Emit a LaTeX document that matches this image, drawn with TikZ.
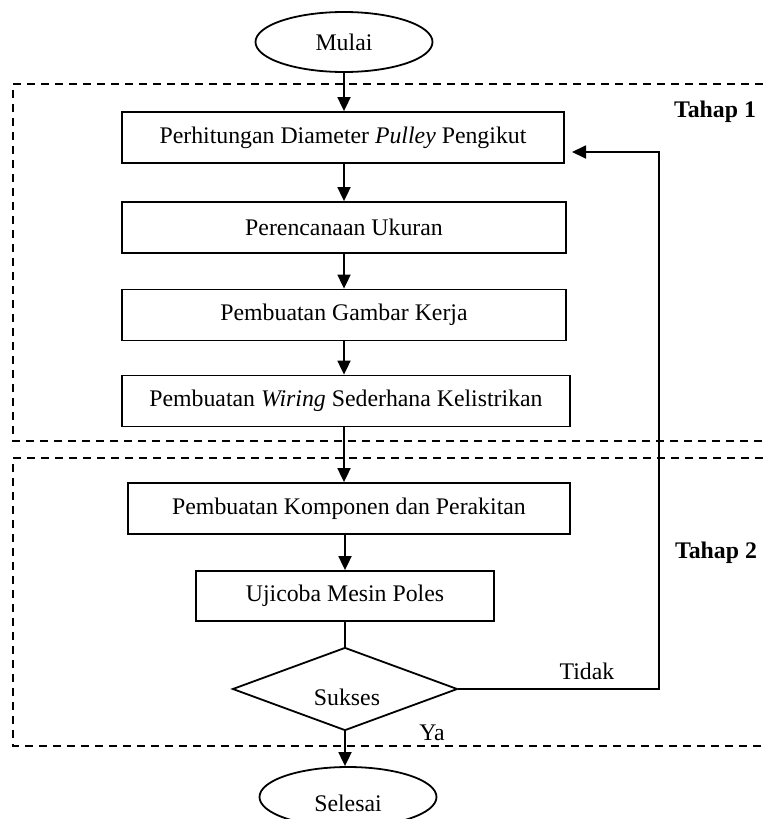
\documentclass[tikz,border=0pt]{standalone}
\usepackage{fontspec}
\setmainfont{Liberation Serif}
\usetikzlibrary{shapes.geometric,arrows.meta}
\begin{document}
\begin{tikzpicture}[x=1pt,y=-1pt,
  every node/.style={font=\fontsize{23.8}{26}\selectfont},
  line/.style={line width=1.8pt},
  arr/.style={line width=1.8pt,-{Triangle[width=13pt,length=14pt]}},
  procbox/.style={draw,line width=1.8pt,rectangle,minimum height=51pt,inner sep=0pt},
  term/.style={draw,line width=1.8pt,ellipse,minimum width=177pt,minimum height=60pt,inner sep=0pt},
  decision/.style={draw,line width=1.8pt,diamond,minimum width=225pt,minimum height=83pt,inner sep=0pt},
  stage/.style={line width=1.6pt,dash pattern=on 8pt off 6pt},
  lbl/.style={inner sep=0pt}]
\useasboundingbox (0,0) rectangle (763,819);
% dashed stage frames
\draw[stage] (763,84) -- (13,84) -- (13,441) -- (763,441);
\draw[stage] (763,458) -- (13,458) -- (13,746) -- (763,746);
% nodes
\node[term] (mulai) at (344,42) {Mulai};
\node[procbox,minimum width=442pt] (b1) at (343,137.5) {Perhitungan Diameter \textit{Pulley} Pengikut};
\node[procbox,minimum width=444pt] (b2) at (344,227.5) {Perencanaan Ukuran};
\node[procbox,minimum width=444pt] (b3) at (344,315) {Pembuatan Gambar Kerja};
\node[procbox,minimum width=448pt] (b4) at (346,401) {Pembuatan \textit{Wiring} Sederhana Kelistrikan};
\node[procbox,minimum width=442pt] (b5) at (349,508.5) {Pembuatan Komponen dan Perakitan};
\node[procbox,minimum width=298pt,minimum height=50pt] (b6) at (345,596) {Ujicoba Mesin Poles};
\node[decision] (dec) at (345,689) {};
\node[lbl] (suk) at (347,697) {Sukses};
\node[term] (selesai) at (348,797) {};
\node[lbl] (sel) at (348,803) {Selesai};
\node[lbl,font=\fontsize{23.8}{26}\selectfont\bfseries] (t1) at (715,112) {Tahap 1};
\node[lbl,font=\fontsize{23.8}{26}\selectfont\bfseries] (t2) at (716,553) {Tahap 2};
\node[lbl] (tidak) at (587,671) {Tidak};
\node[lbl] (ya) at (432,733) {Ya};
\coordinate (fbin) at (572,152);
\coordinate (fbr) at (659,689);
\coordinate (fbt) at (659,152);
% connectors
\draw[arr] (mulai.south) -- (mulai.south |- b1.north);
\draw[arr] (b1.south -| b2.north) -- (b2.north);
\draw[arr] (b2.south) -- (b3.north);
\draw[arr] (b3.south) -- (b3.south |- b4.north);
\draw[arr] (b4.south -| b3.south) -- (b3.south |- b5.north);
\draw[arr] (b5.south -| b6.north) -- (b6.north);
\draw[line] (b6.south) -- (dec.north);
\draw[arr] (dec.south) -- (dec.south |- selesai.north);
\draw[arr] (dec.east) -- (fbr) -- (fbt) -- (fbin);
\end{tikzpicture}
\end{document}
